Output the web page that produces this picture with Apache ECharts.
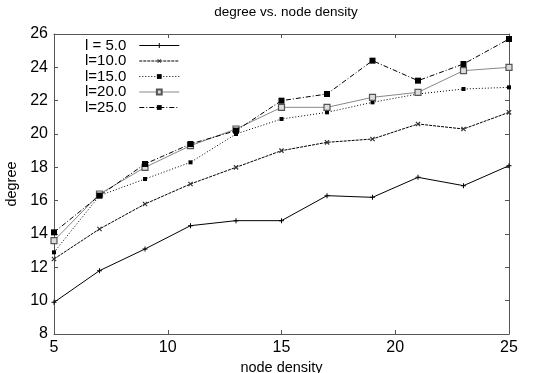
<!DOCTYPE html>
<html>
<head>
<meta charset="utf-8">
<script src="https://cdn.jsdelivr.net/npm/echarts@6/dist/echarts.min.js"></script>
<style>
  html, body { margin: 0; padding: 0; background: #fff; }
  #chart { width: 541px; height: 373px; }
</style>
</head>
<body>
<div id="chart"></div>
<script>
const nodeDensity = [5, 7, 9, 11, 13, 15, 17, 19, 21, 23, 25];
const seriesNames = ['l = 5.0', 'l=10.0', 'l=15.0', 'l=20.0', 'l=25.0'];
const l5 = [9.9, 11.8, 13.1, 14.5, 14.8, 14.8, 16.3, 16.2, 17.4, 16.9, 18.1];
const l10 = [12.5, 14.3, 15.8, 17.0, 18.0, 19.0, 19.5, 19.7, 20.6, 20.3, 21.3];
const l15 = [12.9, 16.3, 17.3, 18.3, 20.0, 20.9, 21.3, 21.9, 22.4, 22.7, 22.8];
const l20 = [13.6, 16.4, 18.0, 19.3, 20.3, 21.6, 21.6, 22.2, 22.5, 23.8, 24.0];
const l25 = [14.1, 16.3, 18.2, 19.4, 20.2, 22.0, 22.4, 24.4, 23.2, 24.2, 25.7];

const font = 'Liberation Sans, Arial, sans-serif';
const plus = 'path://M4,0H6V4H10V6H6V10H4V6H0V4H4Z';

function pairs(ys) {
  return nodeDensity.map((x, i) => [x, ys[i]]);
}

const myChart = echarts.init(document.getElementById('chart'));

const axisCommon = {
  axisLine: { show: true, lineStyle: { color: '#555', width: 1 } },
  axisTick: { show: true, inside: true, length: 4, lineStyle: { color: '#555' } },
  splitLine: { show: false },
};

myChart.setOption({
  animation: false,
  title: {
    text: 'degree vs. node density',
    left: 281, top: 0, textAlign: 'center',
    textStyle: { fontFamily: font, fontSize: 13.5, fontWeight: 'normal', color: '#000' },
  },
  grid: { left: 54, right: 32, top: 34, bottom: 39, outerBoundsMode: 'none' },
  legend: {
    left: 80, top: 33,
    orient: 'vertical',
    align: 'right',
    itemWidth: 40, itemHeight: 6, itemGap: 0.5,
    lineStyle: { width: 1 },
    textStyle: { fontFamily: font, fontSize: 15, lineHeight: 14, color: '#000', padding: [0, 8, 0, 0] },
    data: seriesNames,
  },
  xAxis: [
    Object.assign({}, axisCommon, {
      type: 'value', min: 5, max: 25, interval: 5,
      name: 'node density', nameLocation: 'middle', nameGap: 24,
      nameTextStyle: { fontFamily: font, fontSize: 14.5, color: '#000' },
      axisLabel: { fontFamily: font, fontSize: 16, color: '#000', margin: 6 },
    }),
    Object.assign({}, axisCommon, {
      type: 'value', min: 5, max: 25, interval: 5, position: 'top',
      axisLabel: { show: false },
    }),
  ],
  yAxis: [
    Object.assign({}, axisCommon, {
      type: 'value', min: 8, max: 26, interval: 2,
      name: 'degree', nameLocation: 'middle', nameGap: 24,
      nameTextStyle: { fontFamily: font, fontSize: 14.5, color: '#000' },
      axisLabel: { fontFamily: font, fontSize: 16, color: '#000', margin: 6 },
    }),
    Object.assign({}, axisCommon, {
      type: 'value', min: 8, max: 26, interval: 2, position: 'right',
      axisLabel: { show: false },
    }),
  ],
  series: [
    {
      name: seriesNames[0], type: 'line', data: pairs(l5),
      symbol: plus, symbolSize: 5,
      lineStyle: { color: '#000', width: 1, type: 'solid' },
      itemStyle: { color: '#000' },
    },
    {
      name: seriesNames[1], type: 'line', data: pairs(l10),
      symbol: plus, symbolSize: 6, symbolRotate: 45,
      lineStyle: { color: '#000', width: 1, type: [3, 1] },
      itemStyle: { color: '#333' },
    },
    {
      name: seriesNames[2], type: 'line', data: pairs(l15),
      symbol: 'rect', symbolSize: 4,
      lineStyle: { color: '#000', width: 1, type: [1, 2] },
      itemStyle: { color: '#000' },
    },
    {
      name: seriesNames[3], type: 'line', data: pairs(l20),
      symbol: 'rect', symbolSize: 6,
      lineStyle: { color: '#888', width: 1, type: 'solid' },
      itemStyle: { color: '#ddd', borderColor: '#555', borderWidth: 1.2 },
    },
    {
      name: seriesNames[4], type: 'line', data: pairs(l25),
      symbol: 'rect', symbolSize: 6,
      lineStyle: { color: '#000', width: 1, type: [5, 2, 1, 2] },
      itemStyle: { color: '#000' },
    },
  ],
});
</script>
</body>
</html>
